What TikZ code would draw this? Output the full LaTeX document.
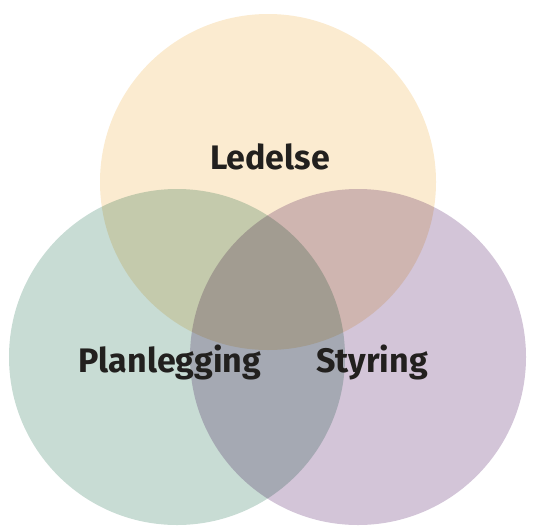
\documentclass[tikz,border=0pt]{standalone}
\usepackage{fontspec}
\setmainfont{Fira Sans}
\definecolor{ledcol}{RGB}{251,235,208}
\definecolor{plancol}{RGB}{200,220,212}
\definecolor{stycol}{RGB}{211,197,216}
\definecolor{txtcol}{RGB}{34,32,30}
\begin{document}
\begin{tikzpicture}
        [x=1pt, y=-1pt,
        set/.style={draw=none},
        label/.style={font=\fontsize{34}{40}\selectfont\bfseries, text=txtcol, inner sep=0pt, anchor=base}]

        \useasboundingbox (0,0) rectangle (534,525);

        % the three sets, multiplied where they overlap
        \begin{scope}[blend group=multiply]
        \fill[set, ledcol] (268,182) circle (168);
        \fill[set, plancol] (177,357) circle (168);
        \fill[set, stycol] (358,357) circle (168);
        \end{scope}

        % labels
        \node[label] (led) at (270,169) {Ledelse};
        \node[label] (plan) at (170,372) {Planlegging};
        \node[label] (sty) at (372,372) {Styring};

        \end{tikzpicture}
\end{document}
